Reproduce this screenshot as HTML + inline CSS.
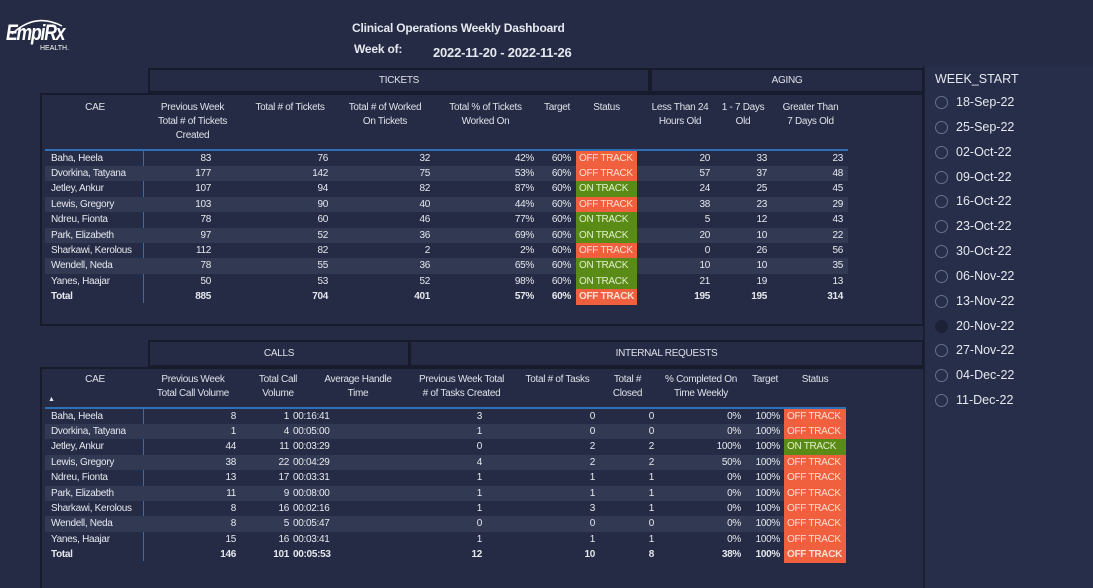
<!DOCTYPE html>
<html><head><meta charset="utf-8"><style>
*{margin:0;padding:0;box-sizing:border-box}
html,body{width:1093px;height:588px}
body{background:#252b44;font-family:"Liberation Sans",sans-serif;color:#e6e8ef;position:relative;overflow:hidden;font-size:10px;letter-spacing:-0.3px}
.a{position:absolute;white-space:nowrap}
.box{position:absolute;border:2px solid #171b2c;border-bottom-width:3px;text-align:center;font-size:10px;color:#dfe1ea}
.panel{position:absolute;border:2px solid #171b2c;border-right:none;border-bottom:none}
.hd{position:absolute;text-align:center;font-size:10px;line-height:14px;color:#dfe1ea}
.row{position:absolute;height:15.4px;line-height:15.4px}
.row span{position:absolute;top:0;white-space:nowrap}
.r{text-align:right}
.alt{background:#323952}
.off{background:#f0603f;color:#fde0d6;padding-left:3px}
.on{background:#5b8b17;color:#e3f0cf;padding-left:3px}
.tot{font-weight:bold}
.radio{position:absolute;left:935px;width:13px;height:13px;border:1.5px solid #6b7089;border-radius:50%}
.lab{position:absolute;left:956px;font-size:12.5px;color:#e6e8ef;letter-spacing:0}
</style></head><body>
<div class="a" style="left:6px;top:20px;font-size:22px;font-style:italic;font-weight:bold;color:#fff;letter-spacing:-1.5px;transform:scaleX(0.8);transform-origin:left">EmpiRx</div>
<div class="a" style="left:40px;top:45px;font-size:7px;color:#fff;letter-spacing:0">HEALTH.</div>
<svg class="a" style="left:10px;top:16px" width="55" height="20"><path d="M2 18 Q25 -4 52 10" stroke="#fff" stroke-width="1.5" fill="none"/></svg>
<div class="a" style="left:352px;top:21px;font-size:12px;font-weight:bold;letter-spacing:-0.2px">Clinical Operations Weekly Dashboard</div>
<div class="a" style="left:354px;top:42px;font-size:12px;font-weight:bold;letter-spacing:-0.2px">Week of:</div>
<div class="a" style="left:433px;top:45px;font-size:13px;font-weight:bold;letter-spacing:-0.2px">2022-11-20 - 2022-11-26</div>
<div class="a" style="left:923px;top:66px;width:170px;height:522px;background:#272e49;border-left:2px solid #1b2033"></div>
<div class="a" style="left:935px;top:72px;font-size:12.5px;letter-spacing:0">WEEK_START</div>
<div class="radio" style="top:96px"></div><div class="lab" style="top:95px">18-Sep-22</div>
<div class="radio" style="top:121px"></div><div class="lab" style="top:120px">25-Sep-22</div>
<div class="radio" style="top:146px"></div><div class="lab" style="top:145px">02-Oct-22</div>
<div class="radio" style="top:171px"></div><div class="lab" style="top:170px">09-Oct-22</div>
<div class="radio" style="top:195px"></div><div class="lab" style="top:194px">16-Oct-22</div>
<div class="radio" style="top:220px"></div><div class="lab" style="top:219px">23-Oct-22</div>
<div class="radio" style="top:245px"></div><div class="lab" style="top:244px">30-Oct-22</div>
<div class="radio" style="top:270px"></div><div class="lab" style="top:269px">06-Nov-22</div>
<div class="radio" style="top:295px"></div><div class="lab" style="top:294px">13-Nov-22</div>
<div class="radio" style="top:320px;background:#1c2136;border-color:#1c2136"></div><div class="lab" style="top:319px">20-Nov-22</div>
<div class="radio" style="top:344px"></div><div class="lab" style="top:343px">27-Nov-22</div>
<div class="radio" style="top:369px"></div><div class="lab" style="top:368px">04-Dec-22</div>
<div class="radio" style="top:394px"></div><div class="lab" style="top:393px">11-Dec-22</div>

<div class="box" style="left:148px;top:68px;width:502px;height:26px;line-height:22px">TICKETS</div>
<div class="box" style="left:650px;top:68px;width:274px;height:26px;line-height:22px">AGING</div>
<div class="panel" style="left:40px;top:93px;width:884px;height:233px;border-right:2px solid #171b2c;border-bottom:2px solid #171b2c"></div>
<div class="hd" style="left:60px;top:101px;width:70px">CAE</div>
<div class="hd" style="left:150px;top:101px;width:85px">Previous Week<br>Total # of Tickets<br>Created</div>
<div class="hd" style="left:245px;top:101px;width:90px">Total # of Tickets</div>
<div class="hd" style="left:340px;top:101px;width:90px">Total # of Worked<br>On Tickets</div>
<div class="hd" style="left:438px;top:101px;width:95px">Total % of Tickets<br>Worked On</div>
<div class="hd" style="left:537px;top:101px;width:40px">Target</div>
<div class="hd" style="left:576px;top:101px;width:61px">Status</div>
<div class="hd" style="left:640px;top:101px;width:80px">Less Than 24<br>Hours Old</div>
<div class="hd" style="left:713px;top:101px;width:60px">1 - 7 Days<br>Old</div>
<div class="hd" style="left:773px;top:101px;width:75px">Greater Than<br>7 Days Old</div>
<div class="a" style="left:45px;top:149px;width:803px;height:1.5px;background:#2f6fb5"></div>
<div class="a" style="left:143px;top:150px;width:1.2px;height:153px;background:#2f6fb5"></div>
<div class="row" style="left:45px;top:150.5px;width:803px"><span style="left:6px">Baha, Heela</span><span class="r" style="left:115px;width:51px">83</span><span class="r" style="left:232px;width:51px">76</span><span class="r" style="left:334px;width:51px">32</span><span class="r" style="left:438px;width:51px">42%</span><span class="r" style="left:496px;width:30px">60%</span><span class="off" style="left:531px;width:61px">OFF TRACK</span><span class="r" style="left:615px;width:50px">20</span><span class="r" style="left:672px;width:50px">33</span><span class="r" style="left:748px;width:50px">23</span></div>
<div class="row alt" style="left:45px;top:165.9px;width:803px"><span style="left:6px">Dvorkina, Tatyana</span><span class="r" style="left:115px;width:51px">177</span><span class="r" style="left:232px;width:51px">142</span><span class="r" style="left:334px;width:51px">75</span><span class="r" style="left:438px;width:51px">53%</span><span class="r" style="left:496px;width:30px">60%</span><span class="off" style="left:531px;width:61px">OFF TRACK</span><span class="r" style="left:615px;width:50px">57</span><span class="r" style="left:672px;width:50px">37</span><span class="r" style="left:748px;width:50px">48</span></div>
<div class="row" style="left:45px;top:181.3px;width:803px"><span style="left:6px">Jetley, Ankur</span><span class="r" style="left:115px;width:51px">107</span><span class="r" style="left:232px;width:51px">94</span><span class="r" style="left:334px;width:51px">82</span><span class="r" style="left:438px;width:51px">87%</span><span class="r" style="left:496px;width:30px">60%</span><span class="on" style="left:531px;width:61px">ON TRACK</span><span class="r" style="left:615px;width:50px">24</span><span class="r" style="left:672px;width:50px">25</span><span class="r" style="left:748px;width:50px">45</span></div>
<div class="row alt" style="left:45px;top:196.7px;width:803px"><span style="left:6px">Lewis, Gregory</span><span class="r" style="left:115px;width:51px">103</span><span class="r" style="left:232px;width:51px">90</span><span class="r" style="left:334px;width:51px">40</span><span class="r" style="left:438px;width:51px">44%</span><span class="r" style="left:496px;width:30px">60%</span><span class="off" style="left:531px;width:61px">OFF TRACK</span><span class="r" style="left:615px;width:50px">38</span><span class="r" style="left:672px;width:50px">23</span><span class="r" style="left:748px;width:50px">29</span></div>
<div class="row" style="left:45px;top:212.1px;width:803px"><span style="left:6px">Ndreu, Fionta</span><span class="r" style="left:115px;width:51px">78</span><span class="r" style="left:232px;width:51px">60</span><span class="r" style="left:334px;width:51px">46</span><span class="r" style="left:438px;width:51px">77%</span><span class="r" style="left:496px;width:30px">60%</span><span class="on" style="left:531px;width:61px">ON TRACK</span><span class="r" style="left:615px;width:50px">5</span><span class="r" style="left:672px;width:50px">12</span><span class="r" style="left:748px;width:50px">43</span></div>
<div class="row alt" style="left:45px;top:227.5px;width:803px"><span style="left:6px">Park, Elizabeth</span><span class="r" style="left:115px;width:51px">97</span><span class="r" style="left:232px;width:51px">52</span><span class="r" style="left:334px;width:51px">36</span><span class="r" style="left:438px;width:51px">69%</span><span class="r" style="left:496px;width:30px">60%</span><span class="on" style="left:531px;width:61px">ON TRACK</span><span class="r" style="left:615px;width:50px">20</span><span class="r" style="left:672px;width:50px">10</span><span class="r" style="left:748px;width:50px">22</span></div>
<div class="row" style="left:45px;top:242.9px;width:803px"><span style="left:6px">Sharkawi, Kerolous</span><span class="r" style="left:115px;width:51px">112</span><span class="r" style="left:232px;width:51px">82</span><span class="r" style="left:334px;width:51px">2</span><span class="r" style="left:438px;width:51px">2%</span><span class="r" style="left:496px;width:30px">60%</span><span class="off" style="left:531px;width:61px">OFF TRACK</span><span class="r" style="left:615px;width:50px">0</span><span class="r" style="left:672px;width:50px">26</span><span class="r" style="left:748px;width:50px">56</span></div>
<div class="row alt" style="left:45px;top:258.3px;width:803px"><span style="left:6px">Wendell, Neda</span><span class="r" style="left:115px;width:51px">78</span><span class="r" style="left:232px;width:51px">55</span><span class="r" style="left:334px;width:51px">36</span><span class="r" style="left:438px;width:51px">65%</span><span class="r" style="left:496px;width:30px">60%</span><span class="on" style="left:531px;width:61px">ON TRACK</span><span class="r" style="left:615px;width:50px">10</span><span class="r" style="left:672px;width:50px">10</span><span class="r" style="left:748px;width:50px">35</span></div>
<div class="row" style="left:45px;top:273.7px;width:803px"><span style="left:6px">Yanes, Haajar</span><span class="r" style="left:115px;width:51px">50</span><span class="r" style="left:232px;width:51px">53</span><span class="r" style="left:334px;width:51px">52</span><span class="r" style="left:438px;width:51px">98%</span><span class="r" style="left:496px;width:30px">60%</span><span class="on" style="left:531px;width:61px">ON TRACK</span><span class="r" style="left:615px;width:50px">21</span><span class="r" style="left:672px;width:50px">19</span><span class="r" style="left:748px;width:50px">13</span></div>
<div class="row tot" style="left:45px;top:289.1px;width:803px"><span style="left:6px">Total</span><span class="r" style="left:115px;width:51px">885</span><span class="r" style="left:232px;width:51px">704</span><span class="r" style="left:334px;width:51px">401</span><span class="r" style="left:438px;width:51px">57%</span><span class="r" style="left:496px;width:30px">60%</span><span class="off" style="left:531px;width:61px">OFF TRACK</span><span class="r" style="left:615px;width:50px">195</span><span class="r" style="left:672px;width:50px">195</span><span class="r" style="left:748px;width:50px">314</span></div>

<div class="box" style="left:148px;top:340px;width:262px;height:28px;line-height:24px">CALLS</div>
<div class="box" style="left:409px;top:340px;width:515px;height:28px;line-height:24px">INTERNAL REQUESTS</div>
<div class="panel" style="left:40px;top:367px;width:884px;height:221px"></div>
<div class="hd" style="left:60px;top:373px;width:70px">CAE</div>
<div class="a" style="left:48px;top:396px;font-size:7px">▲</div>
<div class="hd" style="left:148px;top:373px;width:90px">Previous Week<br>Total Call Volume</div>
<div class="hd" style="left:253px;top:373px;width:50px">Total Call<br>Volume</div>
<div class="hd" style="left:318px;top:373px;width:80px">Average Handle<br>Time</div>
<div class="hd" style="left:410px;top:373px;width:103px">Previous Week Total<br># of Tasks Created</div>
<div class="hd" style="left:515px;top:373px;width:85px">Total # of Tasks</div>
<div class="hd" style="left:605px;top:373px;width:45px">Total #<br>Closed</div>
<div class="hd" style="left:656px;top:373px;width:90px">% Completed On<br>Time Weekly</div>
<div class="hd" style="left:745px;top:373px;width:40px">Target</div>
<div class="hd" style="left:784px;top:373px;width:62px">Status</div>
<div class="a" style="left:45px;top:407px;width:801px;height:1.5px;background:#2f6fb5"></div>
<div class="a" style="left:143px;top:408px;width:1.2px;height:153px;background:#2f6fb5"></div>
<div class="row" style="left:45px;top:408.5px;width:801px"><span style="left:6px">Baha, Heela</span><span class="r" style="left:141px;width:50px">8</span><span class="r" style="left:204px;width:40px">1</span><span style="left:248px">00:16:41</span><span class="r" style="left:387px;width:50px">3</span><span class="r" style="left:500px;width:50px">0</span><span class="r" style="left:559px;width:50px">0</span><span class="r" style="left:646px;width:50px">0%</span><span class="r" style="left:700px;width:35px">100%</span><span class="off" style="left:739px;width:62px">OFF TRACK</span></div>
<div class="row alt" style="left:45px;top:423.9px;width:801px"><span style="left:6px">Dvorkina, Tatyana</span><span class="r" style="left:141px;width:50px">1</span><span class="r" style="left:204px;width:40px">4</span><span style="left:248px">00:05:00</span><span class="r" style="left:387px;width:50px">1</span><span class="r" style="left:500px;width:50px">0</span><span class="r" style="left:559px;width:50px">0</span><span class="r" style="left:646px;width:50px">0%</span><span class="r" style="left:700px;width:35px">100%</span><span class="off" style="left:739px;width:62px">OFF TRACK</span></div>
<div class="row" style="left:45px;top:439.3px;width:801px"><span style="left:6px">Jetley, Ankur</span><span class="r" style="left:141px;width:50px">44</span><span class="r" style="left:204px;width:40px">11</span><span style="left:248px">00:03:29</span><span class="r" style="left:387px;width:50px">0</span><span class="r" style="left:500px;width:50px">2</span><span class="r" style="left:559px;width:50px">2</span><span class="r" style="left:646px;width:50px">100%</span><span class="r" style="left:700px;width:35px">100%</span><span class="on" style="left:739px;width:62px">ON TRACK</span></div>
<div class="row alt" style="left:45px;top:454.7px;width:801px"><span style="left:6px">Lewis, Gregory</span><span class="r" style="left:141px;width:50px">38</span><span class="r" style="left:204px;width:40px">22</span><span style="left:248px">00:04:29</span><span class="r" style="left:387px;width:50px">4</span><span class="r" style="left:500px;width:50px">2</span><span class="r" style="left:559px;width:50px">2</span><span class="r" style="left:646px;width:50px">50%</span><span class="r" style="left:700px;width:35px">100%</span><span class="off" style="left:739px;width:62px">OFF TRACK</span></div>
<div class="row" style="left:45px;top:470.1px;width:801px"><span style="left:6px">Ndreu, Fionta</span><span class="r" style="left:141px;width:50px">13</span><span class="r" style="left:204px;width:40px">17</span><span style="left:248px">00:03:31</span><span class="r" style="left:387px;width:50px">1</span><span class="r" style="left:500px;width:50px">1</span><span class="r" style="left:559px;width:50px">1</span><span class="r" style="left:646px;width:50px">0%</span><span class="r" style="left:700px;width:35px">100%</span><span class="off" style="left:739px;width:62px">OFF TRACK</span></div>
<div class="row alt" style="left:45px;top:485.5px;width:801px"><span style="left:6px">Park, Elizabeth</span><span class="r" style="left:141px;width:50px">11</span><span class="r" style="left:204px;width:40px">9</span><span style="left:248px">00:08:00</span><span class="r" style="left:387px;width:50px">1</span><span class="r" style="left:500px;width:50px">1</span><span class="r" style="left:559px;width:50px">1</span><span class="r" style="left:646px;width:50px">0%</span><span class="r" style="left:700px;width:35px">100%</span><span class="off" style="left:739px;width:62px">OFF TRACK</span></div>
<div class="row" style="left:45px;top:500.9px;width:801px"><span style="left:6px">Sharkawi, Kerolous</span><span class="r" style="left:141px;width:50px">8</span><span class="r" style="left:204px;width:40px">16</span><span style="left:248px">00:02:16</span><span class="r" style="left:387px;width:50px">1</span><span class="r" style="left:500px;width:50px">3</span><span class="r" style="left:559px;width:50px">1</span><span class="r" style="left:646px;width:50px">0%</span><span class="r" style="left:700px;width:35px">100%</span><span class="off" style="left:739px;width:62px">OFF TRACK</span></div>
<div class="row alt" style="left:45px;top:516.3px;width:801px"><span style="left:6px">Wendell, Neda</span><span class="r" style="left:141px;width:50px">8</span><span class="r" style="left:204px;width:40px">5</span><span style="left:248px">00:05:47</span><span class="r" style="left:387px;width:50px">0</span><span class="r" style="left:500px;width:50px">0</span><span class="r" style="left:559px;width:50px">0</span><span class="r" style="left:646px;width:50px">0%</span><span class="r" style="left:700px;width:35px">100%</span><span class="off" style="left:739px;width:62px">OFF TRACK</span></div>
<div class="row" style="left:45px;top:531.7px;width:801px"><span style="left:6px">Yanes, Haajar</span><span class="r" style="left:141px;width:50px">15</span><span class="r" style="left:204px;width:40px">16</span><span style="left:248px">00:03:41</span><span class="r" style="left:387px;width:50px">1</span><span class="r" style="left:500px;width:50px">1</span><span class="r" style="left:559px;width:50px">1</span><span class="r" style="left:646px;width:50px">0%</span><span class="r" style="left:700px;width:35px">100%</span><span class="off" style="left:739px;width:62px">OFF TRACK</span></div>
<div class="row tot" style="left:45px;top:547.1px;width:801px"><span style="left:6px">Total</span><span class="r" style="left:141px;width:50px">146</span><span class="r" style="left:204px;width:40px">101</span><span style="left:248px">00:05:53</span><span class="r" style="left:387px;width:50px">12</span><span class="r" style="left:500px;width:50px">10</span><span class="r" style="left:559px;width:50px">8</span><span class="r" style="left:646px;width:50px">38%</span><span class="r" style="left:700px;width:35px">100%</span><span class="off" style="left:739px;width:62px">OFF TRACK</span></div>
</body></html>
